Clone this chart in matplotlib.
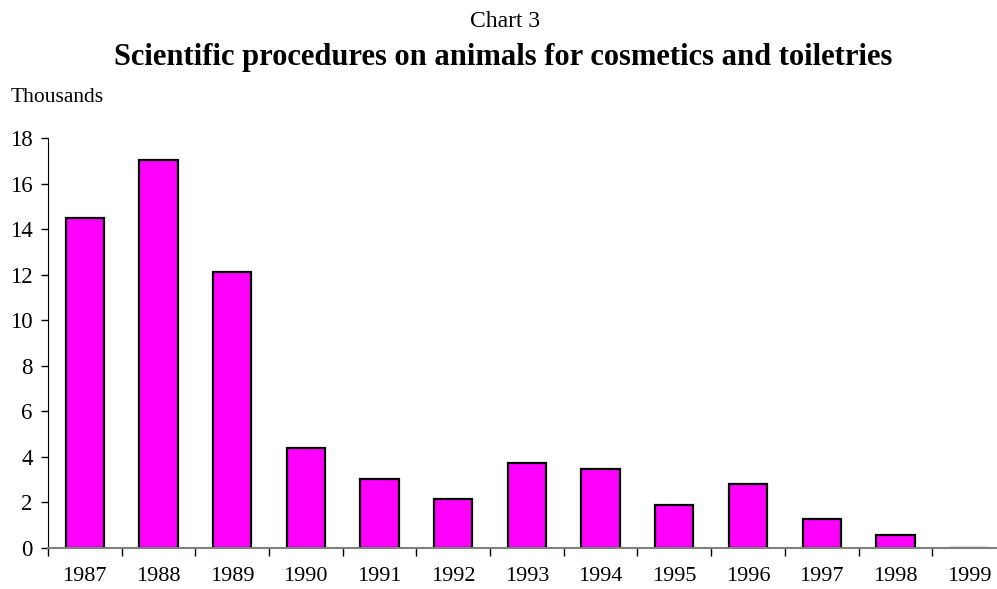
import matplotlib
matplotlib.use("Agg")
import matplotlib.pyplot as plt
import numpy as np

# Data (thousands of procedures)
years = ["1987", "1988", "1989", "1990", "1991", "1992", "1993",
         "1994", "1995", "1996", "1997", "1998", "1999"]
procedures = [14.5, 17.03, 12.12, 4.39, 3.04, 2.16, 3.74,
              3.49, 1.90, 2.79, 1.27, 0.59, 0.0]
yticks = [0, 2, 4, 6, 8, 10, 12, 14, 16, 18]

plt.rcParams['font.family'] = ['Liberation Serif', 'DejaVu Serif']

fig = plt.figure(figsize=(9.97, 5.89), dpi=100)
ax = fig.add_axes([0.048, 0.0696, 0.961, 0.6961])

x = np.arange(len(years))
ax.bar(x, procedures, width=0.52, color='#ff00ff', edgecolor='black', linewidth=1.6)

ax.set_xlim(-0.5, len(years) - 0.5)
ax.set_ylim(0, 18)
ax.set_yticks(yticks)
ax.set_yticklabels([str(t) for t in yticks], fontsize=16.5)

# labels centred on bars, tick marks between categories
ax.set_xticks(x)
ax.set_xticklabels(years, fontsize=16)
ax.tick_params(axis='x', length=0, pad=14)
ax.set_xticks(np.arange(-0.5, len(years) - 0.5, 1), minor=True)
ax.tick_params(axis='x', which='minor', length=6, width=1, color='black', direction='out')
ax.tick_params(axis='y', length=5, width=1, pad=6, direction='out')

for s in ['top', 'right']:
    ax.spines[s].set_visible(False)
ax.spines['left'].set_color('black')
ax.spines['bottom'].set_color('#808080')
ax.spines['bottom'].set_linewidth(1.5)

fig.text(0.507, 0.964, "Chart 3", ha='center', va='center', fontsize=17)
fig.text(0.505, 0.902, "Scientific procedures on animals for cosmetics and toiletries",
         ha='center', va='center', fontsize=22, fontweight='bold')
fig.text(0.011, 0.834, "Thousands", ha='left', va='center', fontsize=15.5)

plt.savefig("out.png", dpi=100)
plt.close()
